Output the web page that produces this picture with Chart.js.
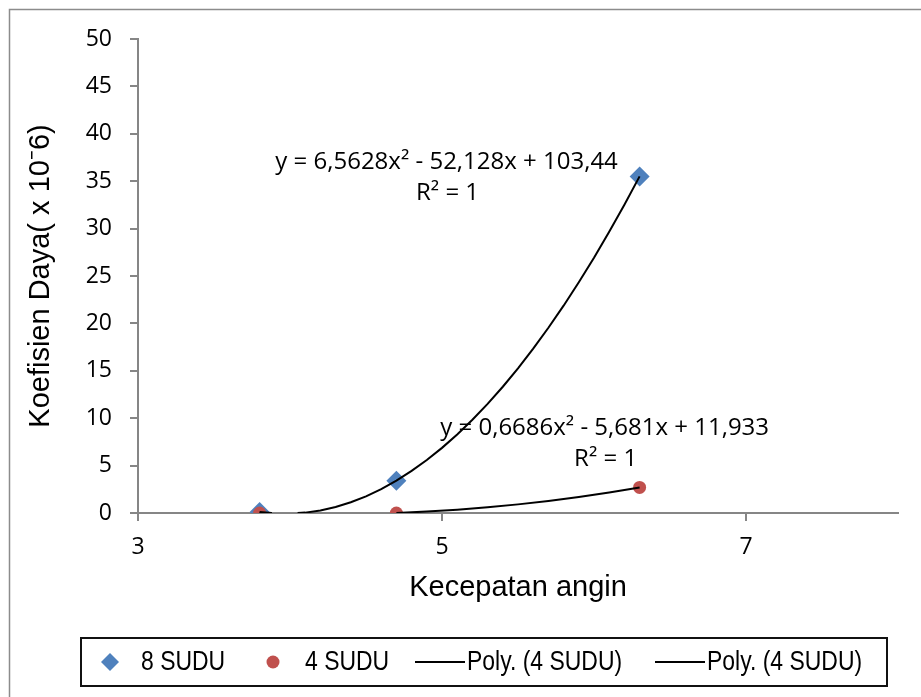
<!DOCTYPE html>
<html>
<head>
<meta charset="utf-8">
<script src="https://cdn.jsdelivr.net/npm/chart.js@4.4.1/dist/chart.umd.min.js"></script>
<style>
  html, body { margin: 0; padding: 0; background: #fff; }
</style>
</head>
<body>
<canvas id="chart" width="921" height="697"></canvas>
<script>
const xTicks = [3, 5, 7]

const sudu8X = [3.8, 4.7, 6.3]
const sudu8Y = [0.1, 3.4, 35.5]
const sudu4X = [3.8, 4.7, 6.3]
const sudu4Y = [0.0, 0.0, 2.7]

// trendlines, null where excel hides them under the axis
const poly8X = [3.8, 3.88, 3.95, 4.05, 4.1, 4.2, 4.3, 4.4, 4.5, 4.6, 4.7, 4.8, 4.9, 5.0, 5.1, 5.2, 5.3, 5.4, 5.5, 5.6, 5.7, 5.8, 5.9, 6.0, 6.1, 6.2, 6.3]
const poly8Y = [0.1, 0.0, null, 0.0, 0.04, 0.27, 0.64, 1.14, 1.76, 2.52, 3.41, 4.44, 5.59, 6.87, 8.29, 9.83, 11.51, 13.32, 15.26, 17.33, 19.54, 21.87, 24.34, 26.93, 29.66, 32.52, 35.51]
const poly4X = [3.8, 3.88, 3.95, 4.7, 4.9, 5.1, 5.3, 5.5, 5.7, 5.9, 6.1, 6.3]
const poly4Y = [0.0, 0.0, null, 0.0, 0.15, 0.35, 0.6, 0.91, 1.27, 1.69, 2.16, 2.68]

const eqTexts = [
   ['y = 6,5628x\u00B2 - 52,128x + 103,44', 'R\u00B2 = 1'],
   ['y = 0,6686x\u00B2 - 5,681x + 11,933', 'R\u00B2 = 1']
]

let toPts = (xs, ys) => xs.map((x, i) => ({ x: x, y: ys[i] }))

const axisGray = '#868686'

// equation labels, anchored in axis units
let eqPlugin = {
   id: 'eqLabels',
   afterDatasetsDraw(chart) {
      const { ctx, scales } = chart
      const anchors = [{ x: 5.03, y: 37.0 }, { x: 6.07, y: 9.0 }]
      ctx.save()
      ctx.fillStyle = '#000'
      ctx.font = '24px "Open Sans"'
      ctx.textAlign = 'center'
      ctx.textBaseline = 'middle'
      anchors.forEach((a, i) => {
         let px = scales.x.getPixelForValue(a.x)
         let py = scales.y.getPixelForValue(a.y)
         ctx.fillText(eqTexts[i][0], px, py)
         ctx.fillText(eqTexts[i][1], px + 1, py + 31)
      })
      ctx.restore()
   }
}

// outer frame + boxed legend like excel
let framePlugin = {
   id: 'frame',
   beforeDraw(chart) {
      const ctx = chart.ctx
      ctx.save()
      ctx.fillStyle = '#fff'
      ctx.fillRect(0, 0, chart.width, chart.height)
      ctx.strokeStyle = '#8c8c8c'
      ctx.lineWidth = 1.5
      ctx.strokeRect(9.5, 9.5, chart.width + 20, chart.height + 20)
      ctx.restore()
   },
   afterDraw(chart) {
      const ctx = chart.ctx
      const ds = chart.data.datasets
      const box = { left: 81, top: 638, right: 887, bottom: 686 }
      const cy = (box.top + box.bottom) / 2
      // legend order: 8 SUDU, 4 SUDU, poly, poly
      const items = [
         { ds: ds[3], x: 110, textX: 141 },
         { ds: ds[2], x: 273, textX: 305 },
         { ds: ds[0], x: 415, textX: 467 },
         { ds: ds[1], x: 655, textX: 707 }
      ]
      ctx.save()
      ctx.strokeStyle = '#111'
      ctx.lineWidth = 2
      ctx.strokeRect(box.left, box.top, box.right - box.left, box.bottom - box.top)
      items.forEach((it) => {
         let d = it.ds
         ctx.fillStyle = d.backgroundColor
         if (d.showLine) {
            ctx.strokeStyle = d.borderColor
            ctx.lineWidth = d.borderWidth
            ctx.beginPath()
            ctx.moveTo(it.x, cy)
            ctx.lineTo(it.x + 50, cy)
            ctx.stroke()
         } else if (d.pointStyle == 'rectRot') {
            let r = 9
            ctx.beginPath()
            ctx.moveTo(it.x, cy - r)
            ctx.lineTo(it.x + r, cy)
            ctx.lineTo(it.x, cy + r)
            ctx.lineTo(it.x - r, cy)
            ctx.closePath()
            ctx.fill()
         } else {
            ctx.beginPath()
            ctx.arc(it.x, cy, 6.5, 0, Math.PI * 2)
            ctx.fill()
         }
         // condensed text, the legend font in the picture is narrow
         ctx.save()
         ctx.translate(it.textX, cy + 1)
         ctx.scale(0.85, 1)
         ctx.fillStyle = '#000'
         ctx.font = '27px "Liberation Sans", Arial, sans-serif'
         ctx.textAlign = 'left'
         ctx.textBaseline = 'middle'
         ctx.fillText(d.label, 0, 0)
         ctx.restore()
      })
      ctx.restore()
   }
}

const ctx = document.getElementById('chart').getContext('2d')

const myChart = new Chart(ctx, {
   type: 'scatter',
   data: {
      datasets: [
         {
            label: 'Poly. (4 SUDU)',
            data: toPts(poly8X, poly8Y),
            showLine: true,
            borderColor: '#000',
            backgroundColor: '#000',
            borderWidth: 2,
            pointRadius: 0,
            spanGaps: false,
            order: 0
         },
         {
            label: 'Poly. (4 SUDU)',
            data: toPts(poly4X, poly4Y),
            showLine: true,
            borderColor: '#000',
            backgroundColor: '#000',
            borderWidth: 2,
            pointRadius: 0,
            spanGaps: false,
            order: 0
         },
         {
            label: '4 SUDU',
            data: toPts(sudu4X, sudu4Y),
            pointStyle: 'circle',
            pointRadius: 6.5,
            borderWidth: 0,
            backgroundColor: '#C0504D',
            borderColor: '#C0504D',
            order: 1
         },
         {
            label: '8 SUDU',
            data: toPts(sudu8X, sudu8Y),
            pointStyle: 'rectRot',
            pointRadius: 10,
            borderWidth: 0,
            backgroundColor: '#4F81BD',
            borderColor: '#4F81BD',
            order: 2
         }
      ]
   },
   options: {
      responsive: false,
      animation: false,
      layout: { padding: { left: 10, right: 23, top: 39, bottom: 59 } },
      plugins: {
         legend: { display: false },
         tooltip: { enabled: false }
      },
      scales: {
         x: {
            type: 'linear',
            min: 3,
            max: 8,
            afterBuildTicks: (s) => { s.ticks = xTicks.map(v => ({ value: v })) },
            afterFit: (s) => { s.height = 125; s.paddingLeft = 0; s.paddingRight = 0 },
            ticks: { color: '#000', padding: 13, font: { family: 'Open Sans', size: 23 } },
            grid: { drawOnChartArea: false, drawTicks: true, tickLength: 8, color: axisGray, lineWidth: 2 },
            border: { color: axisGray, width: 2 },
            title: {
               display: true,
               text: 'Kecepatan angin',
               color: '#000',
               font: { family: 'Liberation Sans', size: 29 },
               padding: { top: 0, bottom: 33 }
            }
         },
         y: {
            min: 0,
            max: 50,
            afterFit: (s) => { s.width = 128; s.paddingTop = 0; s.paddingBottom = 0 },
            ticks: { stepSize: 5, color: '#000', padding: 18, font: { family: 'Open Sans', size: 23 } },
            grid: { drawOnChartArea: false, drawTicks: true, tickLength: 8, color: axisGray, lineWidth: 2 },
            border: { color: axisGray, width: 2 },
            title: {
               display: true,
               text: 'Koefisien Daya( x 10\u207B6)',
               color: '#000',
               font: { family: 'Liberation Sans', size: 29 },
               padding: { top: 14, bottom: 0 }
            }
         }
      }
   },
   plugins: [framePlugin, eqPlugin]
})
</script>
</body>
</html>
